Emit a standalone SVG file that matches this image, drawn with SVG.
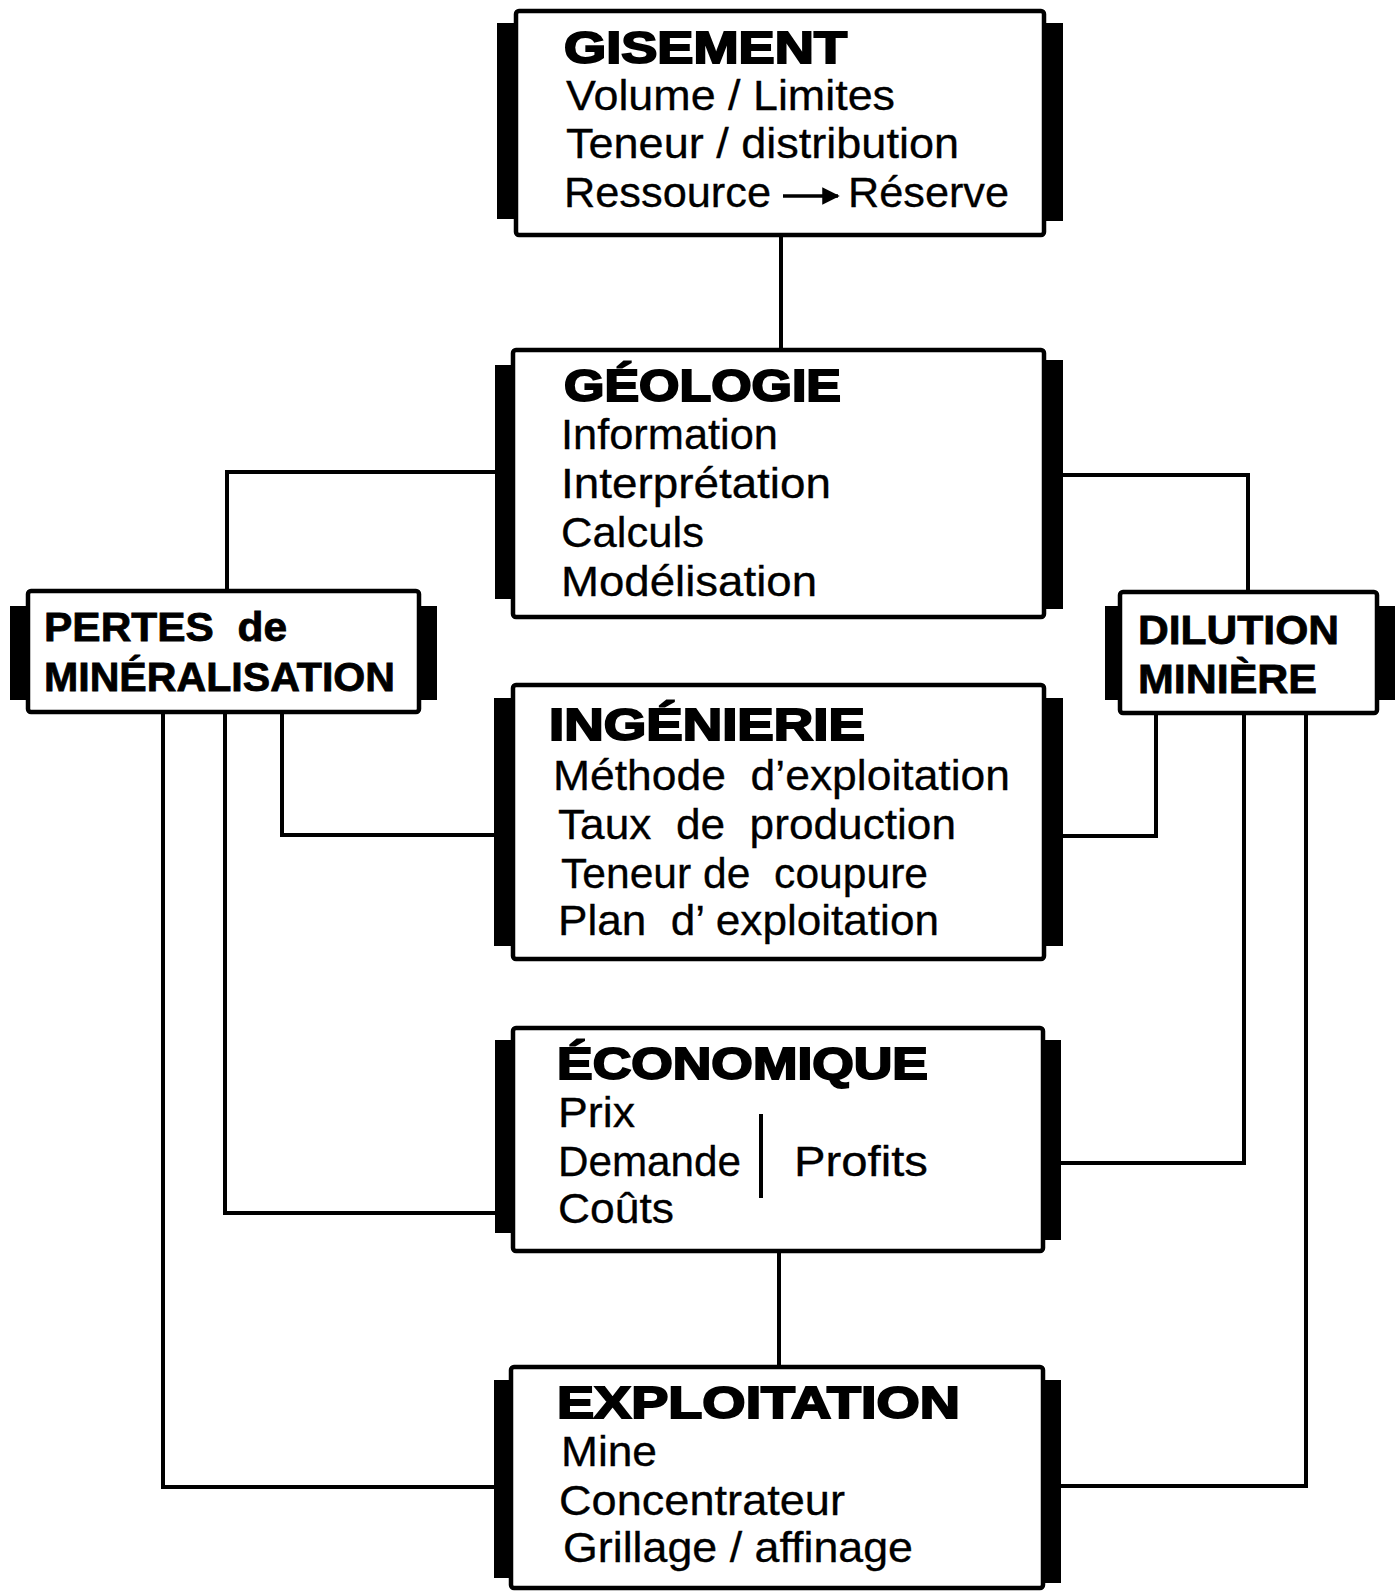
<svg xmlns="http://www.w3.org/2000/svg" width="1398" height="1591" viewBox="0 0 1398 1591">
  <style>
    .frame { fill: #fff; stroke: #000; stroke-width: 4.5; }
    .bar { fill: #000; }
    .wire { fill: none; stroke: #000; stroke-width: 4; stroke-linejoin: miter; }
    .title { font-family: "Liberation Sans", Arial, sans-serif; font-weight: bold; font-size: 45px; fill: #000; stroke: #000; stroke-width: 2; white-space: pre; }
    .side { font-family: "Liberation Sans", Arial, sans-serif; font-weight: bold; font-size: 41px; fill: #000; stroke: #000; stroke-width: 0.8; white-space: pre; }
    .item { font-family: "Liberation Sans", Arial, sans-serif; font-size: 42px; fill: #000; stroke: #000; stroke-width: 0.3; white-space: pre; }
  </style>
  <defs>
    <marker id="tip" viewBox="0 0 10 10" refX="9" refY="5" markerWidth="5" markerHeight="5" orient="auto" markerUnits="strokeWidth">
      <path d="M0,0 L10,5 L0,10 z" fill="#000"/>
    </marker>
  </defs>
  <rect width="1398" height="1591" fill="#fff"/>

  <!-- connectors -->
  <g id="connectors">
    <path class="wire" d="M781,235 V350"/>
    <path class="wire" d="M495,472 H227 V591"/>
    <path class="wire" d="M1062,475 H1248 V592"/>
    <path class="wire" d="M282,712 V835 H494"/>
    <path class="wire" d="M1156,713 V836 H1062"/>
    <path class="wire" d="M225,712 V1213 H495"/>
    <path class="wire" d="M1244,713 V1163 H1060"/>
    <path class="wire" d="M163,712 V1487 H494"/>
    <path class="wire" d="M1306,713 V1486 H1060"/>
    <path class="wire" d="M779,1251 V1367"/>
  </g>

  <!-- GISEMENT -->
  <g id="gisement">
    <rect class="bar" x="497" y="23" width="21" height="196"/>
    <rect class="bar" x="1043" y="23" width="20" height="198"/>
    <rect class="frame" x="516" y="11" width="528" height="224" rx="3"/>
    <text class="title" x="564" y="63" textLength="283" lengthAdjust="spacingAndGlyphs">GISEMENT</text>
    <text class="item" x="566" y="110" textLength="329" lengthAdjust="spacingAndGlyphs">Volume / Limites</text>
    <text class="item" x="566" y="158" textLength="393" lengthAdjust="spacingAndGlyphs">Teneur / distribution</text>
    <text class="item" x="564" y="207" textLength="207" lengthAdjust="spacingAndGlyphs">Ressource</text>
    <path d="M783,196 H838" stroke="#000" stroke-width="3.5" marker-end="url(#tip)"/>
    <text class="item" x="848" y="207" textLength="161" lengthAdjust="spacingAndGlyphs">Réserve</text>
  </g>

  <!-- GÉOLOGIE -->
  <g id="geologie">
    <rect class="bar" x="495" y="365" width="21" height="234"/>
    <rect class="bar" x="1043" y="360" width="20" height="249"/>
    <rect class="frame" x="513" y="350" width="531" height="267" rx="3"/>
    <text class="title" x="564" y="401" textLength="277" lengthAdjust="spacingAndGlyphs">GÉOLOGIE</text>
    <text class="item" x="561" y="449" textLength="217" lengthAdjust="spacingAndGlyphs">Information</text>
    <text class="item" x="561" y="498" textLength="270" lengthAdjust="spacingAndGlyphs">Interprétation</text>
    <text class="item" x="561" y="547" textLength="143" lengthAdjust="spacingAndGlyphs">Calculs</text>
    <text class="item" x="561" y="596" textLength="256" lengthAdjust="spacingAndGlyphs">Modélisation</text>
  </g>

  <!-- INGÉNIERIE -->
  <g id="ingenierie">
    <rect class="bar" x="494" y="698" width="22" height="248"/>
    <rect class="bar" x="1043" y="698" width="20" height="248"/>
    <rect class="frame" x="513" y="685" width="531" height="274" rx="3"/>
    <text class="title" x="549" y="740" textLength="316" lengthAdjust="spacingAndGlyphs">INGÉNIERIE</text>
    <text class="item" x="553" y="790" textLength="457" lengthAdjust="spacingAndGlyphs">Méthode  d’exploitation</text>
    <text class="item" x="558" y="839" textLength="398" lengthAdjust="spacingAndGlyphs">Taux  de  production</text>
    <text class="item" x="561" y="888" textLength="367" lengthAdjust="spacingAndGlyphs">Teneur de  coupure</text>
    <text class="item" x="558" y="935" textLength="381" lengthAdjust="spacingAndGlyphs">Plan  d’ exploitation</text>
  </g>

  <!-- ÉCONOMIQUE -->
  <g id="economique">
    <rect class="bar" x="495" y="1040" width="21" height="193"/>
    <rect class="bar" x="1041" y="1040" width="20" height="200"/>
    <rect class="frame" x="513" y="1028" width="530" height="223" rx="3"/>
    <text class="title" x="557" y="1079" textLength="371" lengthAdjust="spacingAndGlyphs">ÉCONOMIQUE</text>
    <text class="item" x="558" y="1127" textLength="77" lengthAdjust="spacingAndGlyphs">Prix</text>
    <text class="item" x="558" y="1176" textLength="183" lengthAdjust="spacingAndGlyphs">Demande</text>
    <text class="item" x="558" y="1223" textLength="116" lengthAdjust="spacingAndGlyphs">Coûts</text>
    <line x1="761" y1="1114" x2="761" y2="1198" stroke="#000" stroke-width="4"/>
    <text class="item" x="794" y="1176" textLength="134" lengthAdjust="spacingAndGlyphs">Profits</text>
  </g>

  <!-- EXPLOITATION -->
  <g id="exploitation">
    <rect class="bar" x="494" y="1380" width="20" height="198"/>
    <rect class="bar" x="1041" y="1380" width="20" height="203"/>
    <rect class="frame" x="511" y="1367" width="532" height="221" rx="3"/>
    <text class="title" x="557" y="1418" textLength="403" lengthAdjust="spacingAndGlyphs">EXPLOITATION</text>
    <text class="item" x="561" y="1466" textLength="96" lengthAdjust="spacingAndGlyphs">Mine</text>
    <text class="item" x="559" y="1515" textLength="286" lengthAdjust="spacingAndGlyphs">Concentrateur</text>
    <text class="item" x="563" y="1562" textLength="350" lengthAdjust="spacingAndGlyphs">Grillage / affinage</text>
  </g>

  <!-- PERTES de MINÉRALISATION -->
  <g id="pertes">
    <rect class="bar" x="10" y="606" width="20" height="94"/>
    <rect class="bar" x="417" y="606" width="20" height="94"/>
    <rect class="frame" x="28" y="591" width="391" height="121" rx="3"/>
    <text class="side" x="44" y="641" textLength="243" lengthAdjust="spacingAndGlyphs">PERTES  de</text>
    <text class="side" x="44" y="691" textLength="351" lengthAdjust="spacingAndGlyphs">MINÉRALISATION</text>
  </g>

  <!-- DILUTION MINIÈRE -->
  <g id="dilution">
    <rect class="bar" x="1105" y="606" width="18" height="94"/>
    <rect class="bar" x="1375" y="606" width="20" height="94"/>
    <rect class="frame" x="1120" y="592" width="257" height="121" rx="3"/>
    <text class="side" x="1138" y="644" textLength="201" lengthAdjust="spacingAndGlyphs">DILUTION</text>
    <text class="side" x="1138" y="693" textLength="179" lengthAdjust="spacingAndGlyphs">MINIÈRE</text>
  </g>
</svg>
